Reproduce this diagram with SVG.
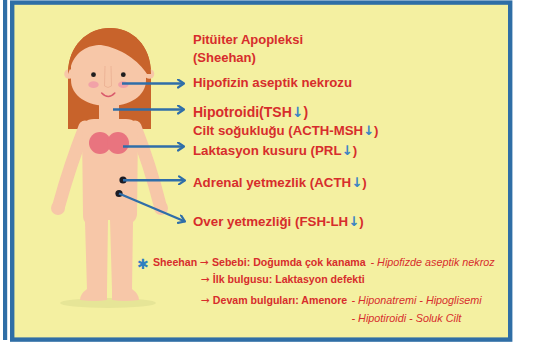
<svg xmlns="http://www.w3.org/2000/svg" width="533" height="342" viewBox="0 0 533 342">
  <style>
    .skin { fill: #f7c7a8; }
    .hair { fill: #c8632b; }
    .lbl { font-family: "Liberation Sans", Arial, sans-serif; font-weight: bold; fill: #d72d2c; }
    .note { font-family: "Liberation Sans", Arial, sans-serif; fill: #d72d2c; }
    .b { font-weight: bold; font-size: 10.6px; }
    .it { font-style: italic; font-size: 10.8px; }
    .down { fill: #3b84c4; font-family: "DejaVu Sans", sans-serif; font-weight: bold; }
    .arr { font-family: "DejaVu Sans", sans-serif; font-weight: normal; }
    .conn { stroke: #2f6ea9; stroke-width: 2.4; fill: none; marker-end: url(#chev); }
  </style>
  <defs>
    <marker id="chev" viewBox="0 0 8 10" refX="7" refY="5" markerWidth="8" markerHeight="10" markerUnits="userSpaceOnUse" orient="auto">
      <path d="M1,1 L7,5 L1,9" fill="none" stroke="#2f6ea9" stroke-width="2.2" stroke-linecap="round" stroke-linejoin="round"/>
    </marker>
  </defs>

  <!-- page background and frame -->
  <rect x="0" y="0" width="533" height="342" fill="#ffffff"/>
  <rect x="3" y="0" width="4.2" height="340" fill="#2f6ea6"/>
  <rect x="12.2" y="2.6" width="498" height="337" fill="#f4f0a1" stroke="#2f6ea6" stroke-width="4.4"/>

  <!-- figure -->
  <g id="figure">
    <ellipse cx="108" cy="303" rx="48" ry="5" fill="#e6e597"/>
    <!-- hair behind head -->
    <path class="hair" d="M68,129 L68,74 C68,45 88,28 110,28 C132,28 151,45 151,74 L151,129 Z"/>
    <!-- arms -->
    <path d="M85,127 Q70,165 59,205" stroke="#f7c7a8" stroke-width="13" stroke-linecap="round" fill="none"/>
    <path d="M135,127 Q150,165 160,205" stroke="#f7c7a8" stroke-width="13" stroke-linecap="round" fill="none"/>
    <ellipse class="skin" cx="58" cy="208" rx="7" ry="7"/>
    <ellipse class="skin" cx="161" cy="208" rx="7" ry="7"/>
    <!-- torso and legs -->
    <path class="skin" d="M82,131 Q82,119 94,119 L126,119 Q138,119 138,131 L137,215 Q136,220 133,222 L132,290 L112,290 L110,220 L108,220 L107,290 L87,290 L85,222 Q83,220 83,215 Z"/>
    <!-- feet -->
    <path class="skin" d="M87,285 L107,285 L107,300 Q95,302 80,300 Q80,294 87,289 Z"/>
    <path class="skin" d="M112,285 L132,285 L132,289 Q139,294 139,300 Q124,302 112,300 Z"/>
    <!-- neck -->
    <rect class="skin" x="99" y="98" width="20" height="26"/>
    <!-- ears -->
    <circle class="skin" cx="69" cy="74" r="4.8"/>
    <circle class="skin" cx="149.5" cy="74" r="4.8"/>
    <!-- face -->
    <path class="skin" d="M71,64 Q71,45 95,45 L124,45 Q146,45 146,66 L146,80 C146,96 130,106 108.5,106 C87,106 71,96 71,80 Z"/>
    <!-- fringe -->
    <path class="hair" d="M68,74 C68,45 88,28 110,28 C132,28 151,45 151,74 L147,74 C139,61 121,48 101,45 C88,45 76,51 71,66 Z"/>
    <!-- features -->
    <circle cx="93.5" cy="74.7" r="2.4" fill="#1e1e1e"/>
    <circle cx="123.3" cy="74.7" r="2.4" fill="#1e1e1e"/>
    <ellipse cx="93.5" cy="84.7" rx="5.2" ry="3.4" fill="#f2a2a8"/>
    <ellipse cx="123.3" cy="84.7" rx="5.2" ry="3.4" fill="#f2a2a8"/>
    <path d="M105,66 L104.5,86 Q108,89 111.5,86 L111,66" fill="none" stroke="#eaae92" stroke-width="0.8"/>
    <path d="M101.7,93 Q108.3,100 114.8,93" fill="none" stroke="#d95b6c" stroke-width="1.6" stroke-linecap="round"/>
    <!-- chest -->
    <circle cx="100" cy="143" r="11" fill="#e9747f"/>
    <circle cx="118" cy="143" r="11" fill="#e9747f"/>
    <!-- marker dots -->
    <circle cx="123" cy="180" r="3.6" fill="#1c1c24"/>
    <circle cx="119" cy="193.5" r="3.6" fill="#1c1c24"/>
  </g>

  <!-- connectors -->
  <g id="connectors">
    <line class="conn" x1="122" y1="83.5" x2="184" y2="83.5"/>
    <line class="conn" x1="113" y1="109.5" x2="184" y2="109.5"/>
    <line class="conn" x1="123" y1="146.5" x2="184" y2="146.5"/>
    <line class="conn" x1="123" y1="180.3" x2="185" y2="180.3"/>
    <line class="conn" x1="119" y1="193.5" x2="185" y2="221.5"/>
  </g>

  <!-- labels -->
  <g id="title">
    <text class="lbl" x="193" y="44" font-size="13">Pitüiter Apopleksi</text>
    <text class="lbl" x="193" y="62" font-size="13">(Sheehan)</text>
  </g>
  <g id="hipofiz">
    <text class="lbl" x="193" y="86.5" font-size="13.2">Hipofizin aseptik nekrozu</text>
  </g>
  <g id="tiroid">
    <text class="lbl" x="193" y="116.5" font-size="14">Hipotroidi(TSH<tspan class="down">↓</tspan>)</text>
    <text class="lbl" x="193" y="135" font-size="13.2">Cilt soğukluğu (ACTH-MSH<tspan class="down">↓</tspan>)</text>
  </g>
  <g id="laktasyon">
    <text class="lbl" x="193" y="155" font-size="13.3">Laktasyon kusuru (PRL<tspan class="down">↓</tspan>)</text>
  </g>
  <g id="adrenal">
    <text class="lbl" x="193" y="186.5" font-size="13.3">Adrenal yetmezlik (ACTH<tspan class="down">↓</tspan>)</text>
  </g>
  <g id="over">
    <text class="lbl" x="193" y="226" font-size="13.3">Over yetmezliği (FSH-LH<tspan class="down">↓</tspan>)</text>
  </g>

  <!-- Sheehan note -->
  <g id="note">
    <text x="137" y="268.5" font-family="DejaVu Sans, sans-serif" font-size="14" font-weight="bold" fill="#2f7fc0">✱</text>
    <text class="note b" x="153" y="266">Sheehan <tspan class="arr">→</tspan> Sebebi: Doğumda çok kanama</text>
    <text class="note it" x="370.5" y="266">- Hipofizde aseptik nekroz</text>
    <text class="note b" x="201" y="283"><tspan class="arr">→</tspan> İlk bulgusu: Laktasyon defekti</text>
    <text class="note b" x="201" y="303.5"><tspan class="arr">→</tspan> Devam bulguları: Amenore</text>
    <text class="note it" x="351.5" y="303.5">- Hiponatremi - Hipoglisemi</text>
    <text class="note it" x="351.5" y="322">- Hipotiroidi - Soluk Cilt</text>
  </g>
</svg>
